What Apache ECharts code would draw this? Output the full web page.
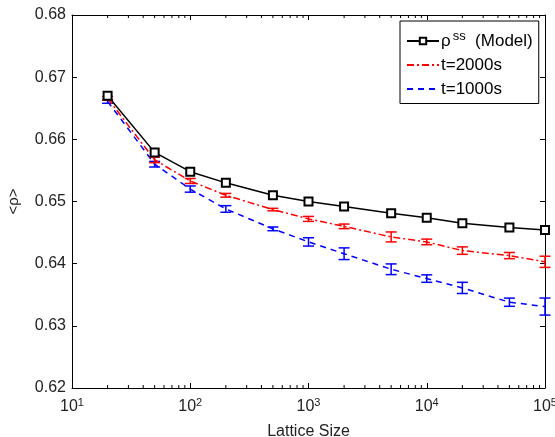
<!DOCTYPE html>
<html><head><meta charset="utf-8">
<script src="https://cdn.jsdelivr.net/npm/echarts@6/dist/echarts.min.js"></script>
<style>html,body{margin:0;padding:0;background:#fff}#c{width:555px;height:437px}</style>
</head><body><div id="c"></div>
<script>
const sizes = [20, 50, 100, 200, 500, 1000, 2000, 5000, 10000, 20000, 50000, 100000];
const model = [0.6670, 0.6579, 0.6548, 0.6530, 0.6510, 0.6500, 0.6492, 0.6481, 0.6474, 0.6465, 0.6458, 0.6454];
const t2000 = [0.6666, 0.6567, 0.6533, 0.6510, 0.6487, 0.6472, 0.6460, 0.6443, 0.6435, 0.6421, 0.6413, 0.6403];
const t2000Err = [0.0003, 0.00045, 0.0004, 0.0003, 0.0002, 0.0004, 0.00037, 0.0008, 0.00045, 0.0006, 0.0005, 0.0009];
const t1000 = [0.6661, 0.6560, 0.6520, 0.6488, 0.6456, 0.6435, 0.6416, 0.6391, 0.6376, 0.6361, 0.6338, 0.6331];
const t1000Err = [0.0003, 0.00045, 0.0005, 0.00053, 0.0003, 0.00067, 0.00094, 0.00086, 0.0006, 0.0009, 0.00066, 0.00137];
const seriesNames = ['model', 't=2000s', 't=1000s'];
const xMin = 10, xMax = 100000;
const yMin = 0.62, yMax = 0.68, yStep = 0.01;
const decades = [10, 100, 1000, 10000];
const minorMultipliers = [2, 3, 4, 5, 6, 7, 8, 9];

const FONT = 'Liberation Sans, Arial, Helvetica, sans-serif';
const minorTicks = [];
decades.forEach(d => minorMultipliers.forEach(m => minorTicks.push([d * m])));

function pairs(ys) { return sizes.map((x, i) => [x, ys[i]]); }
function errData(ys, es) { return sizes.map((x, i) => [x, ys[i] - es[i], ys[i] + es[i]]); }

function errRender(color) {
  return function (params, api) {
    const x = api.value(0);
    const lo = api.coord([x, api.value(1)]);
    const hi = api.coord([x, api.value(2)]);
    const w = 5.5;
    const style = { stroke: color, lineWidth: 1.5, fill: null };
    return {
      type: 'group',
      children: [
        { type: 'line', shape: { x1: lo[0], y1: lo[1], x2: hi[0], y2: hi[1] }, style },
        { type: 'line', shape: { x1: lo[0] - w, y1: lo[1], x2: lo[0] + w, y2: lo[1] }, style },
        { type: 'line', shape: { x1: hi[0] - w, y1: hi[1], x2: hi[0] + w, y2: hi[1] }, style }
      ]
    };
  };
}

function minorRender(params, api) {
  const x = api.value(0);
  const b = api.coord([x, yMin]);
  const t = api.coord([x, yMax]);
  const style = { stroke: '#000', lineWidth: 1 };
  return {
    type: 'group',
    children: [
      { type: 'line', shape: { x1: b[0], y1: b[1], x2: b[0], y2: b[1] - 3 }, style },
      { type: 'line', shape: { x1: t[0], y1: t[1], x2: t[0], y2: t[1] + 3 }, style }
    ]
  };
}

const chart = echarts.init(document.getElementById('c'), null, { renderer: 'canvas' });
const axisCommon = {
  axisLine: { show: true, onZero: false, lineStyle: { color: '#000', width: 1 } },
  axisTick: { show: true, inside: true, length: 5, lineStyle: { color: '#000' } },
  splitLine: { show: false }
};
chart.setOption({
  animation: false,
  backgroundColor: '#fff',
  textStyle: { fontFamily: FONT },
  grid: { left: 72, right: 10, top: 15, bottom: 49, containLabel: false, outerBoundsMode: 'none' },
  legend: {
    data: [
      { name: seriesNames[0] },
      { name: seriesNames[1], itemStyle: { opacity: 0 } },
      { name: seriesNames[2], itemStyle: { opacity: 0 } }
    ],
    orient: 'vertical',
    left: 400, top: 21,
    width: 140,
    padding: [9, 6, 6, 6],
    itemGap: 7,
    itemWidth: 32, itemHeight: 8,
    backgroundColor: '#fff',
    borderColor: '#000', borderWidth: 1,
    borderRadius: 0,
    formatter: function (n) {
      if (n === 'model') return '{a|ρ}{sup|ss}{a|  (Model)}';
      return '{a|' + n + '}';
    },
    textStyle: {
      fontFamily: FONT, fontSize: 16, color: '#000', padding: [0, 0, 0, -3],
      rich: {
        a: { fontFamily: FONT, fontSize: 17, color: '#000' },
        sup: { fontFamily: FONT, fontSize: 13, color: '#000', verticalAlign: 'bottom', padding: [0, 0, 9, 2] }
      }
    }
  },
  xAxis: [
    Object.assign({
      type: 'log', logBase: 10, min: xMin, max: xMax, position: 'bottom',
      name: 'Lattice Size', nameLocation: 'middle', nameGap: 36,
      nameTextStyle: { fontFamily: FONT, fontSize: 16, color: '#222' },
      axisLabel: {
        margin: 9, color: '#222', fontFamily: FONT, fontSize: 16,
        formatter: function (v) { return '{b|10}{sup|' + Math.round(Math.log10(v)) + '}'; },
        rich: {
          b: { fontFamily: FONT, fontSize: 16, color: '#222' },
          sup: { fontFamily: FONT, fontSize: 11, color: '#222', verticalAlign: 'bottom', padding: [0, 0, 9, 0] }
        }
      }
    }, axisCommon),
    Object.assign({
      type: 'log', logBase: 10, min: xMin, max: xMax, position: 'top',
      axisLabel: { show: false }
    }, axisCommon)
  ],
  yAxis: [
    Object.assign({
      type: 'value', min: yMin, max: yMax, interval: yStep, position: 'left',
      name: '<ρ>', nameLocation: 'middle', nameGap: 51, nameRotate: 90,
      nameTextStyle: { fontFamily: FONT, fontSize: 15, color: '#222' },
      axisLabel: { margin: 6, color: '#222', fontFamily: FONT, fontSize: 16, formatter: v => v.toFixed(2) }
    }, axisCommon),
    Object.assign({
      type: 'value', min: yMin, max: yMax, interval: yStep, position: 'right',
      axisLabel: { show: false }
    }, axisCommon)
  ],
  series: [
    {
      name: seriesNames[2], type: 'line', data: pairs(t1000), symbol: 'none',
      lineStyle: { color: '#0000ff', width: 1.5, type: [6, 5] }, itemStyle: { color: '#0000ff' }, z: 3
    },
    {
      name: seriesNames[1], type: 'line', data: pairs(t2000), symbol: 'none',
      lineStyle: { color: '#ff0000', width: 1.5, type: [7, 3, 2, 3] }, itemStyle: { color: '#ff0000' }, z: 4
    },
    {
      name: seriesNames[0], type: 'line', data: pairs(model), symbol: 'emptyRect', symbolSize: 8,
      lineStyle: { color: '#000', width: 1.5 }, itemStyle: { color: '#000', borderWidth: 1.5, borderColor: '#000' }, z: 5
    },
    { name: 'err1000', type: 'custom', data: errData(t1000, t1000Err), renderItem: errRender('#0000ff'), z: 3 },
    { name: 'err2000', type: 'custom', data: errData(t2000, t2000Err), renderItem: errRender('#ff0000'), z: 4 },
    { name: 'minor', type: 'custom', data: minorTicks, renderItem: minorRender, z: 1, silent: true }
  ]
});
</script>
</body></html>
